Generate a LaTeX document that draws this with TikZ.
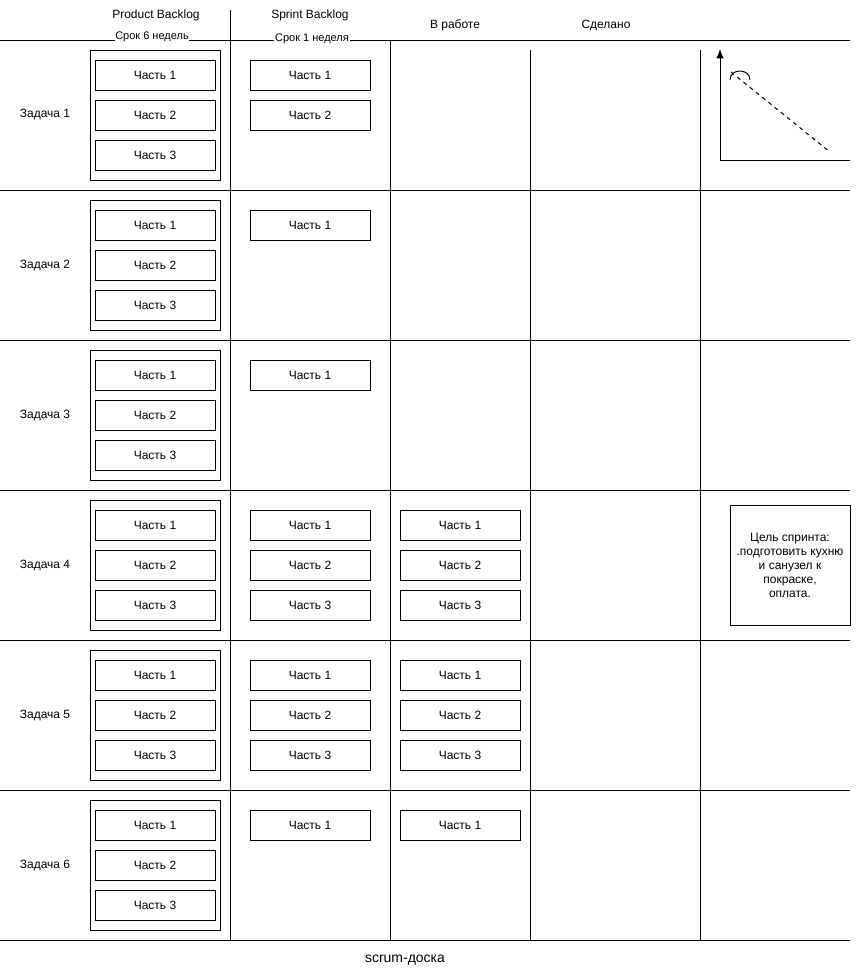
\documentclass[tikz,border=0pt]{standalone}
\usepackage{fontspec}
\setmainfont{Liberation Sans}
\usetikzlibrary{arrows.meta}
\tikzset{
  part/.style={draw, minimum width=90pt, minimum height=22.5pt, inner sep=0pt},
  head/.style={inner sep=0.5pt},
}

\begin{document}
\begin{tikzpicture}[x=0.75pt,y=-0.75pt,line width=0.75pt,font=\fontsize{9}{10.5}\selectfont]
\useasboundingbox (0,0) rectangle (859,976);
\foreach \y in {40,190,...,940} \draw (0,\y) -- (850,\y);
\draw (230,10) -- (230,940);
\draw (390,40) -- (390,940);
\draw (530,50) -- (530,940);
\draw (700,50) -- (700,940);
\node[head] (pbhead) at (156,15) {Product Backlog};
\node[head,fill=white,font=\fontsize{8.25}{10}\selectfont] (pbterm) at (152,37) {Срок 6 недель};
\node[head] (sbhead) at (310,15) {Sprint Backlog};
\node[head,fill=white,font=\fontsize{8.25}{10}\selectfont] (sbterm) at (312,39) {Срок 1 неделя};
\node[head] (wiphead) at (455,25) {В работе};
\node[head] (donehead) at (606,25) {Сделано};
\foreach \r/\ns/\nw in {1/2/0,2/1/0,3/1/0,4/3/3,5/3/3,6/1/1}{
  \pgfmathsetmacro\rowy{40+150*(\r-1)}
  \node (task\r) at (45,\rowy+75) {Задача \r};
  \draw (90,\rowy+10) rectangle (220,\rowy+140);
  \foreach \p in {1,2,3}
    \node[part] (pb\r-\p) at (155,\rowy+40*\p-5) {Часть \p};
  \foreach \p in {1,...,\ns}
    \node[part] (sb\r-\p) at (310,\rowy+40*\p-5) {Часть \p};
  \ifnum\nw>0
    \foreach \p in {1,...,\nw}
      \node[part] (wip\r-\p) at (460,\rowy+40*\p-5) {Часть \p};
  \fi
}
\draw[-{Latex[length=7pt,width=5.5pt]}] (720,160) -- (720,49);
\draw (720,160) -- (850,160);
\draw[dashed] (731,72) -- (830,152);
\draw (730,80) .. controls (730,68) and (750,68) .. (750,80);
\node[draw,minimum width=90pt,minimum height=90pt,align=center,inner sep=1pt] (goal) at (790,565)
  {Цель спринта:\\.подготовить кухню\\и санузел к\\покраске,\\оплата.};
\node[font=\fontsize{10.5}{12}\selectfont] (title) at (405,960) {scrum-доска};
\end{tikzpicture}
\end{document}
